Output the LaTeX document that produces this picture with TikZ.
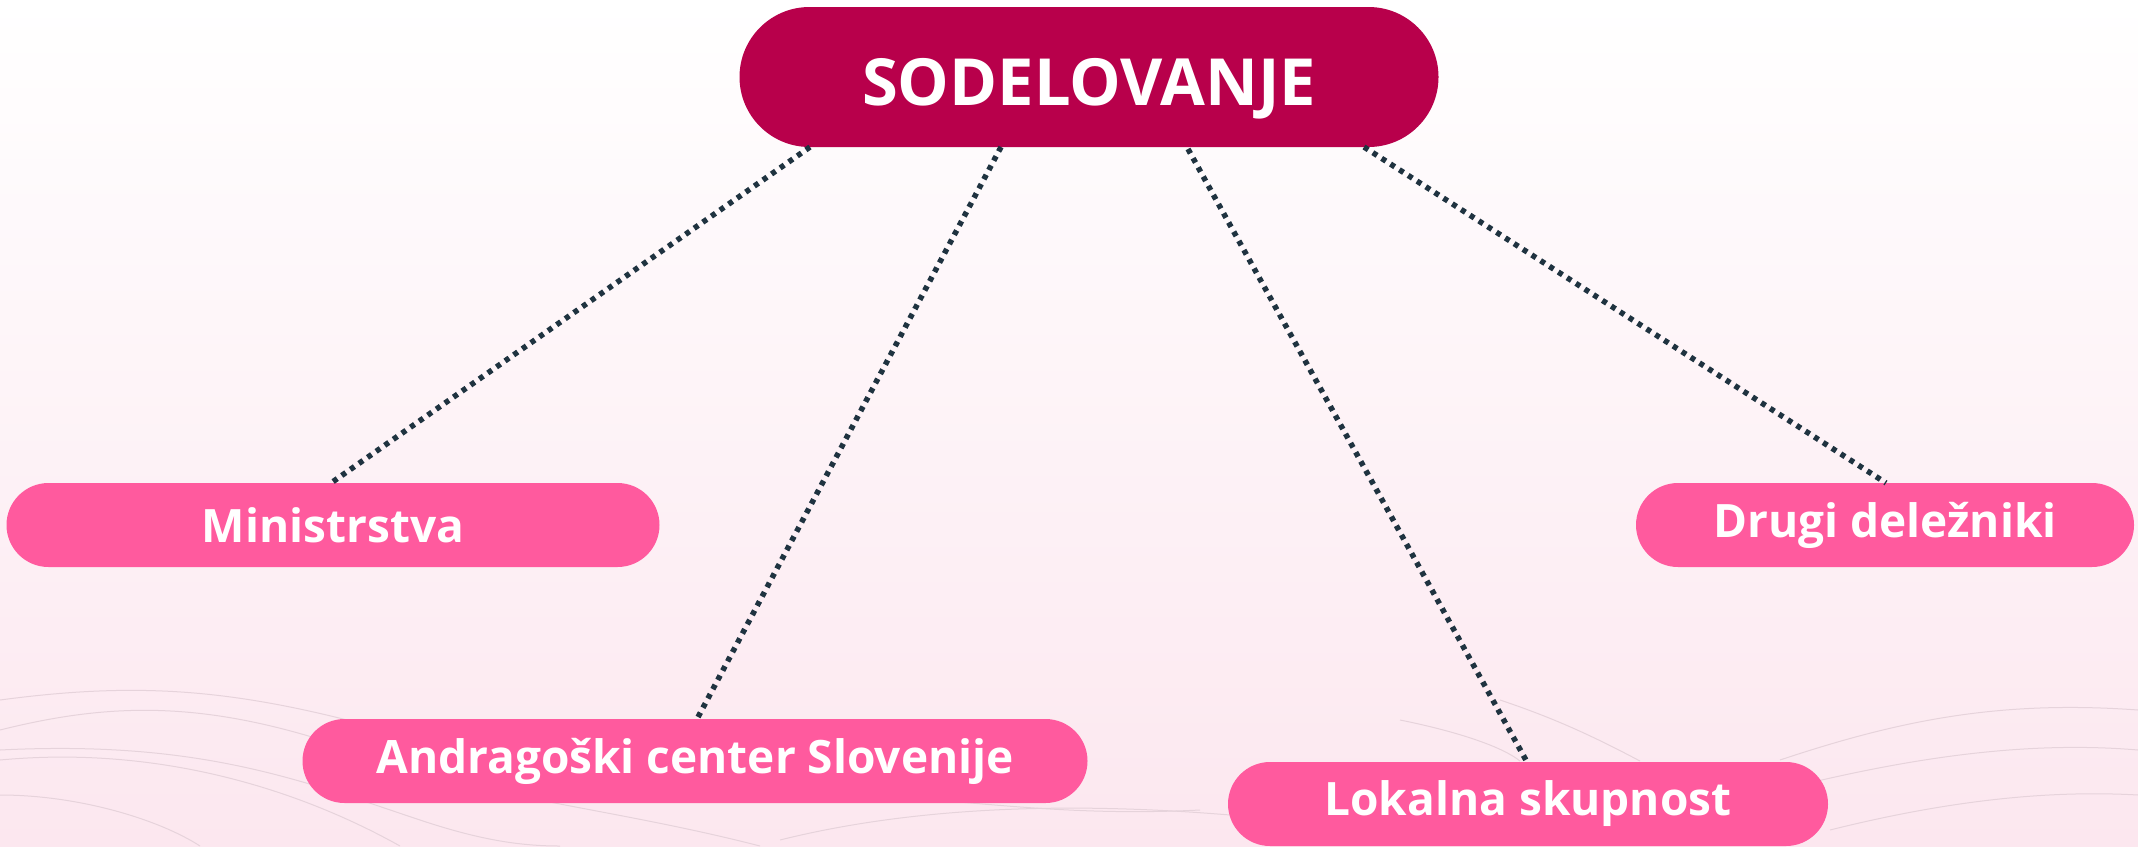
\documentclass[tikz,border=0pt]{standalone}
\usepackage{fontspec}
\setmainfont{Open Sans}
\usetikzlibrary{shapes.misc}
\definecolor{crimson}{HTML}{B8004B}
\definecolor{hotpink}{HTML}{FF5A9E}
\definecolor{dotline}{HTML}{1F3340}
\definecolor{bgpink}{HTML}{FCE7EF}
\definecolor{wave}{HTML}{E6D3DB}
\begin{document}
\begin{tikzpicture}[x=1pt,y=-1pt,
  rootbox/.style={rounded rectangle, fill=crimson, minimum height=140pt, inner sep=0pt},
  childbox/.style={rounded rectangle, fill=hotpink, text=white, minimum height=84pt,
     font=\fontsize{46}{56}\selectfont\bfseries, inner sep=0pt},
  link/.style={draw=dotline, line width=5.5pt, dash pattern=on 5pt off 5.5pt},
  waveline/.style={draw=wave, line width=1pt}]
\useasboundingbox (0,0) rectangle (2138,846);
\shade[top color=white, bottom color=bgpink] (0,0) rectangle (2138,846);
% background waves
\draw[waveline] (0,700) .. controls (150,680) and (250,690) .. (420,740) .. controls (560,780) and (700,720) .. (900,760);
\draw[waveline] (0,730) .. controls (120,700) and (220,700) .. (380,760) .. controls (500,800) and (620,810) .. (760,846);
\draw[waveline] (0,750) .. controls (200,740) and (300,780) .. (420,820) .. controls (480,840) and (520,846) .. (560,846);
\draw[waveline] (0,795) .. controls (80,795) and (160,820) .. (200,846);
\draw[waveline] (0,760) .. controls (160,745) and (300,790) .. (400,846);
\draw[waveline] (700,800) .. controls (900,780) and (1000,820) .. (1200,810);
\draw[waveline] (780,840) .. controls (900,810) and (1050,800) .. (1230,815);
\draw[waveline] (1780,760) .. controls (1900,720) and (2000,700) .. (2138,710);
\draw[waveline] (1780,790) .. controls (1900,760) and (2020,740) .. (2138,750);
\draw[waveline] (1830,830) .. controls (1950,800) and (2050,790) .. (2138,795);
\draw[waveline] (1500,700) .. controls (1560,720) and (1600,740) .. (1640,761);
\draw[waveline] (1400,720) .. controls (1450,730) and (1500,745) .. (1520,761);
% nodes
\node[rootbox, minimum width=699pt] (root) at (1089,77) {};
\node[font=\fontsize{65}{75}\selectfont\bfseries, text=white, anchor=base] (roottext) at (1089,105) {SODELOVANJE};
\node[childbox, minimum width=653pt] (min) at (333,525) {Ministrstva};
\node[childbox, minimum width=498pt] (drug) at (1885,525) {Drugi deležniki};
\node[childbox, minimum width=785pt] (acs) at (695,761) {Andragoški center Slovenije};
\node[childbox, minimum width=600pt] (lok) at (1528,804) {Lokalna skupnost};
% connectors
\coordinate (r1) at (810,147);
\coordinate (r2) at (1001,147);
\coordinate (r3) at (1188,149);
\coordinate (r4) at (1364,147);
\coordinate (c1) at (331,483);
\coordinate (c2) at (697,719);
\coordinate (c3) at (1527,762);
\coordinate (c4) at (1886,483);
\path[link] (r1) -- (c1);
\path[link] (r2) -- (c2);
\path[link] (r3) -- (c3);
\path[link] (r4) -- (c4);
\end{tikzpicture}
\end{document}
